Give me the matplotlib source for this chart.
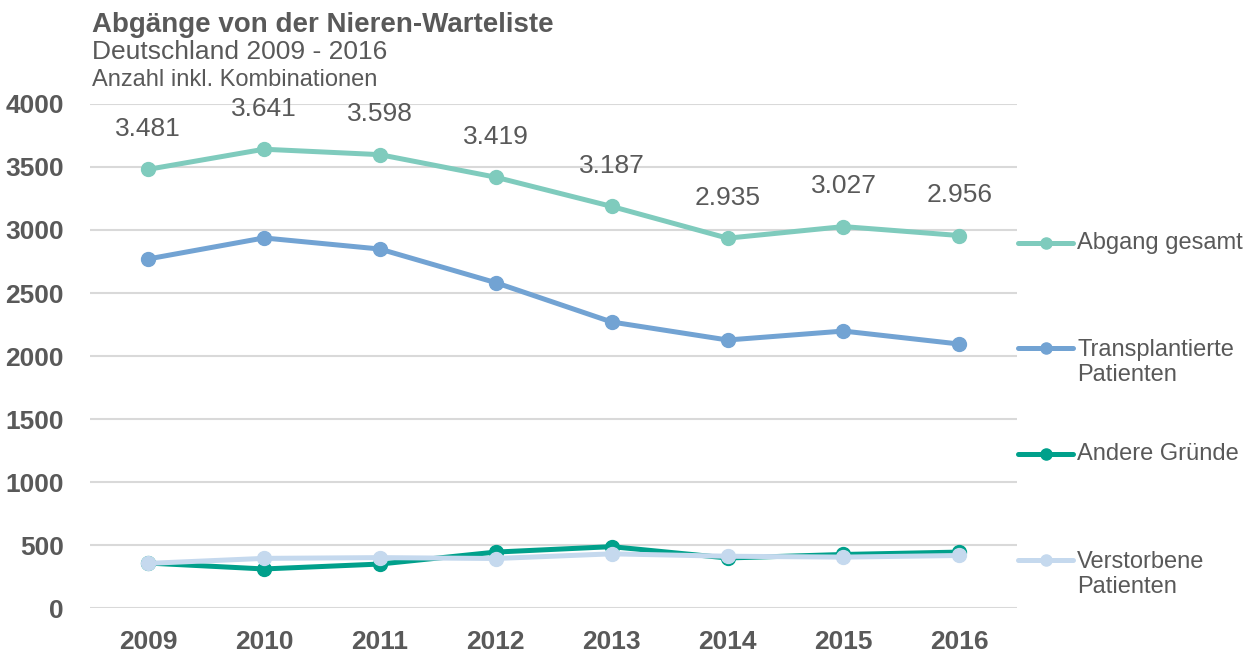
import matplotlib
matplotlib.use("Agg")
import matplotlib.pyplot as plt
from matplotlib.lines import Line2D

plt.rcParams['font.family'] = ['Liberation Sans', 'DejaVu Sans']

years = ['2009', '2010', '2011', '2012', '2013', '2014', '2015', '2016']
abgang_gesamt = [3481, 3641, 3598, 3419, 3187, 2935, 3027, 2956]
transplantiert = [2770, 2937, 2849, 2582, 2270, 2127, 2198, 2095]
andere_gruende = [357, 310, 349, 444, 487, 397, 425, 444]
verstorben = [354, 394, 400, 393, 430, 411, 404, 417]

series_names = ['Abgang gesamt', 'Transplantierte\nPatienten', 'Andere Gründe', 'Verstorbene\nPatienten']
colors = ['#7fcbbd', '#72a3d3', '#00a08b', '#c5d9ee']
txt = '#595959'

fig = plt.figure(figsize=(12.56, 6.54), dpi=100)
ax = fig.add_axes([0.0717, 0.0703, 0.7383, 0.7707])

x = list(range(len(years)))
for vals, c in zip([abgang_gesamt, transplantiert, andere_gruende, verstorben], colors):
    ax.plot(x, vals, color=c, lw=3.6, marker='o', ms=10, solid_capstyle='round', zorder=3)

for xi, v in zip(x, abgang_gesamt):
    lab = f'{v:,}'.replace(',', '.')
    ax.annotate(lab, (xi, v), xytext=(0, 29), textcoords='offset points',
                ha='center', va='center', fontsize=19, color=txt)

ax.set_xlim(-0.5, 7.5)
ax.set_ylim(0, 4000)
ax.set_yticks(range(0, 4001, 500))
ax.set_xticks(x)
ax.set_xticklabels(years)
ax.grid(axis='y', color='#d9d9d9', lw=1.5)
ax.set_axisbelow(True)
for s in ax.spines.values():
    s.set_visible(False)
ax.tick_params(length=0, labelsize=19, labelcolor=txt)
ax.tick_params(axis='x', pad=16)
ax.tick_params(axis='y', pad=19)
for lbl in ax.get_xticklabels() + ax.get_yticklabels():
    lbl.set_fontweight('bold')

# titles
fig.text(0.073, 1 - 32 / 654, 'Abgänge von der Nieren-Warteliste', fontsize=20, fontweight='bold',
         color=txt, va='baseline')
fig.text(0.073, 1 - 59 / 654, 'Deutschland 2009 - 2016', fontsize=19, color=txt, va='baseline')
fig.text(0.073, 1 - 86 / 654, 'Anzahl inkl. Kombinationen', fontsize=17, color=txt, va='baseline')

# legend on the right
leg_y = [243, 348, 454, 560]
for name, c, py in zip(series_names, colors, leg_y):
    fy = 1 - py / 654
    fig.add_artist(Line2D([1018 / 1256, 1073 / 1256], [fy, fy], color=c, lw=3.6,
                          solid_capstyle='round', transform=fig.transFigure))
    fig.add_artist(Line2D([1046 / 1256], [fy], color=c, marker='o', ms=8,
                          transform=fig.transFigure))
    if '\n' in name:
        fig.text(1077 / 1256, fy + 9 / 654, name, fontsize=17, color=txt, va='top',
                 linespacing=1.2)
    else:
        fig.text(1077 / 1256, fy, name, fontsize=17, color=txt, va='center')

fig.savefig('out.png', dpi=100)
